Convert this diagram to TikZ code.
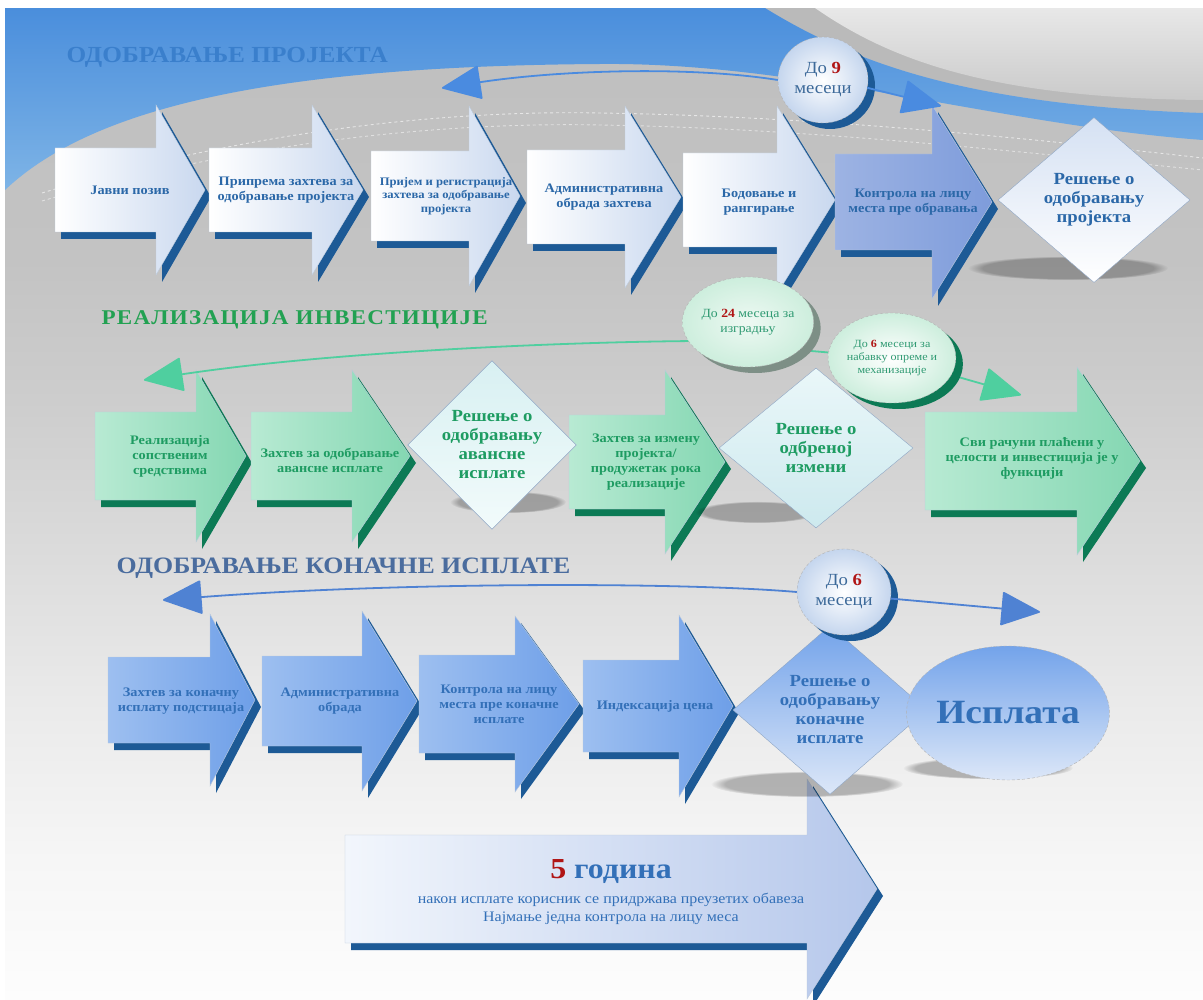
\documentclass[tikz,border=0pt]{standalone}
\usepackage{fontspec}
\setmainfont{Liberation Serif}[FakeStretch=1.1]
\usetikzlibrary{shapes.geometric,arrows.meta,shadows,fadings}

\definecolor{skyA}{HTML}{4A8EDC}
\definecolor{skyB}{HTML}{7EB4E6}
\definecolor{bandgray}{HTML}{BABABA}
\definecolor{lightA}{HTML}{E8E8E8}
\definecolor{lightB}{HTML}{CACACA}
\definecolor{bg8}{HTML}{BFBFBF}
\definecolor{bg9}{HTML}{C3C3C3}
\definecolor{bgA}{HTML}{CDCDCD}
\definecolor{bgB}{HTML}{DCDCDC}
\definecolor{bgC}{HTML}{EAEAEA}
\definecolor{bgD}{HTML}{F6F6F6}
\definecolor{bgE}{HTML}{FDFDFD}
\definecolor{navyshadow}{HTML}{1D5A96}
\definecolor{greenshadow}{HTML}{0C7A55}
\definecolor{grayshadow}{HTML}{7D8F86}
\definecolor{titleblue}{HTML}{3A7FCC}
\definecolor{titlegreen}{HTML}{22A152}
\definecolor{titleslate}{HTML}{4A6C9E}
\definecolor{txtblue}{HTML}{2B68A8}
\definecolor{txtgreen}{HTML}{1E9C62}
\definecolor{txtblue3}{HTML}{3370B8}
\definecolor{txtcirc}{HTML}{3D6A9A}
\definecolor{txtmint}{HTML}{2F9A72}
\definecolor{numred}{HTML}{B01515}
\definecolor{linkblue}{HTML}{4A8BE0}
\definecolor{linkgreen}{HTML}{4FCF9F}
\definecolor{linkblue3}{HTML}{4F82D3}
\definecolor{paleA}{HTML}{C9D8EF}
\definecolor{darkL}{HTML}{9DB3E3}
\definecolor{darkM}{HTML}{D6E0F3}
\definecolor{darkR}{HTML}{7E9CDB}
\definecolor{mintL}{HTML}{B8EAD3}
\definecolor{mintM}{HTML}{E4F7EF}
\definecolor{mintR}{HTML}{84D7B2}
\definecolor{azL}{HTML}{9DBFF0}
\definecolor{azM}{HTML}{DCE8FA}
\definecolor{azR}{HTML}{6E9FE8}
\definecolor{bigL}{HTML}{F2F6FC}
\definecolor{bigR}{HTML}{B5C7EB}
\definecolor{frame}{HTML}{8FA6C4}
\definecolor{diaTop}{HTML}{D5E1F3}
\definecolor{cyanTop}{HTML}{D8F0F2}
\definecolor{cyanBot}{HTML}{F2FBFB}
\definecolor{cyanB}{HTML}{CDE9EE}
\definecolor{cyanT}{HTML}{EAF7F9}
\definecolor{ballEdge}{HTML}{C5D6EE}
\definecolor{mintIn}{HTML}{EEF9F3}
\definecolor{mintOut}{HTML}{CDEEDD}
\definecolor{payTop}{HTML}{73A3EA}
\definecolor{payBot}{HTML}{DCE7F8}

\pgfdeclareverticalshading{backfade}{100bp}{color(0bp)=(bgE); color(25bp)=(bgE);
  color(32bp)=(bgD); color(40bp)=(bgC); color(47bp)=(bgB); color(55bp)=(bgA);
  color(62bp)=(bg9); color(75bp)=(bg8); color(100bp)=(bg8)}

\newcommand{\procarrow}[7]{%
  \path[#1] (#2,#5-#6) -- (#3,#5-#6) -- (#3,#5-#7) -- (#4,#5) -- (#3,#5+#7)
    -- (#3,#5+#6) -- (#2,#5+#6) -- cycle;}

\begin{document}
\begin{tikzpicture}[x=1pt,y=-1pt,
  navy3d/.style={drop shadow={shadow xshift=6pt,shadow yshift=-7pt,fill=navyshadow,opacity=1}},
  green3d/.style={drop shadow={shadow xshift=6pt,shadow yshift=-7pt,fill=greenshadow,opacity=1}},
  stepA/.style={navy3d,left color=white,right color=paleA,draw=frame!60,line width=.4pt},
  stepAdark/.style={navy3d,left color=darkL,middle color=darkM,right color=darkR,draw=frame!60,line width=.4pt},
  stepG/.style={green3d,left color=mintL,middle color=mintM,right color=mintR,draw=frame!60,line width=.4pt},
  stepB/.style={navy3d,left color=azL,middle color=azM,right color=azR,draw=frame!60,line width=.4pt},
  stepbig/.style={navy3d,left color=bigL,right color=bigR,draw=frame!60,line width=.4pt},
  lab1/.style={font=\bfseries\fontsize{13}{15}\selectfont,text=txtblue,align=center},
  lab2/.style={font=\bfseries\fontsize{13}{15}\selectfont,text=txtgreen,align=center},
  lab3/.style={font=\bfseries\fontsize{13}{15}\selectfont,text=txtblue3,align=center},
  title/.style={anchor=west,font=\bfseries\fontsize{23}{25}\selectfont},
  dia/.style={diamond,inner sep=0pt,draw=frame,line width=.4pt,align=center,
    font=\bfseries\fontsize{17}{19}\selectfont},
  oval/.style={ellipse,inner sep=0pt,draw=gray!60,densely dashed,line width=.4pt,align=center},
  floor/.style={black,opacity=.26,path fading=circle with fuzzy edge 15 percent},
  linkA/.style={linkblue,line width=1.8pt},
  linkG/.style={linkgreen,line width=1.8pt},
  linkC/.style={linkblue3,line width=1.8pt},
  tipA/.style={-{Triangle[round,length=40pt,width=34pt]}}
]
\useasboundingbox (0,0) rectangle (1203,1000);
\shade[shading=backfade] (0,0) rectangle (1203,1000);
\fill[bandgray] (765,8) .. controls (850,60) and (960,105) .. (1203,113) -- (1203,8) -- cycle;
\shade[top color=lightA,bottom color=lightB] (815,8) .. controls (890,60) and (990,98) .. (1203,100) -- (1203,8) -- cycle;
\shade[top color=skyA,bottom color=skyB] (5,8) -- (765,8) .. controls (850,60) and (960,105) .. (1203,113)
  -- (1203,140) .. controls (1000,125) and (800,62) .. (600,64) .. controls (300,66) and (100,100) .. (5,190) -- cycle;
\fill[white] (0,0) rectangle (1203,8);
\fill[white] (0,0) rectangle (5,1000);
\draw[white,opacity=.6,dashed,line width=.9pt] (42,193) .. controls (250,130) and (450,110) .. (600,113)
  .. controls (800,116) and (1000,135) .. (1203,158);
\draw[white,opacity=.5,dashed,line width=.9pt] (42,201) .. controls (250,140) and (450,122) .. (600,125)
  .. controls (800,128) and (1000,150) .. (1203,170);

\node[title,text=titleblue] (head1) at (63,57) {ОДОБРАВАЊЕ ПРОЈЕКТА};
\node[title,text=titlegreen,font=\bfseries\fontsize{21}{23}\selectfont\addfontfeatures{LetterSpace=6}] (head2) at (98,320) {РЕАЛИЗАЦИЈА ИНВЕСТИЦИЈЕ};
\node[title,text=titleslate,font=\bfseries\fontsize{23.5}{25}\selectfont] (head3) at (113,568) {ОДОБРАВАЊЕ КОНАЧНЕ ИСПЛАТЕ};

\procarrow{stepA}{55}{156}{205}{190}{42}{85}
\procarrow{stepA}{209}{312}{363}{190}{42}{85}
\procarrow{stepA}{371}{469}{520}{196}{45}{90}
\procarrow{stepA}{527}{625}{681}{197}{47}{91}
\procarrow{stepA}{683}{777}{835}{200}{47}{94}
\procarrow{stepAdark}{835}{932}{992}{202}{48}{97}
\node[lab1] (poziv) at (130,190) {Јавни позив};
\node[lab1] (priprema) at (286,190) {Припрема захтева за\\одобравање пројекта};
\node[lab1,font=\bfseries\fontsize{11.5}{13.5}\selectfont] (prijem) at (446,196) {Пријем и регистрација\\захтева за одобравање\\пројекта};
\node[lab1] (obrada) at (604,197) {Административна\\обрада захтева};
\node[lab1] (bodovanje) at (759,202) {Бодовање и\\рангирање};
\node[lab1] (kontrola) at (913,202) {Контрола на лицу\\места пре обравања};
\fill[floor] (1068,268) ellipse [x radius=100pt,y radius=12pt];
\node[dia,top color=diaTop,bottom color=white,text=txtblue,minimum width=192pt,minimum height=165pt] (res1) at (1094,200) {Решење о\\одобравању\\пројекта};

\coordinate (t1l) at (442,88);
\coordinate (t1r) at (941,106);
\node[oval,inner color=white,outer color=ballEdge,minimum width=90pt,minimum height=86pt,
  drop shadow={shadow xshift=7pt,shadow yshift=-6pt,fill=navyshadow,opacity=1},
  text=txtcirc,font=\fontsize{17}{20}\selectfont] (rok9) at (823,80) {До \textcolor{numred}{\textbf{9}}\\месеци};
\draw[linkA,tipA] (rok9.180) .. controls (690,66) and (560,70) .. (t1l);
\draw[linkA,tipA] (rok9.-10) -- (t1r);

\procarrow{stepG}{95}{196}{246}{456}{44}{86}
\procarrow{stepG}{251}{352}{410}{456}{44}{86}
\procarrow{stepG}{569}{665}{725}{462}{47}{92}
\procarrow{stepG}{925}{1077}{1140}{461}{49}{94}
\node[lab2] (sopstveno) at (170,456) {Реализација\\сопственим\\средствима};
\node[lab2] (avans) at (330,460) {Захтев за одобравање\\авансне исплате};
\node[lab2] (izmena) at (646,462) {Захтев за измену\\пројекта/\\продужетак рока\\реализације};
\node[lab2] (racuni) at (1032,458) {Сви рачуни плаћени у\\целости и инвестиција је у\\функцији};
\fill[floor] (508,502) ellipse [x radius=58pt,y radius=11pt];
\fill[floor] (757,512) ellipse [x radius=62pt,y radius=11pt];
\node[dia,top color=cyanTop,bottom color=cyanBot,text=txtgreen,minimum width=158pt,minimum height=150pt] (res2) at (492,445) {Решење о\\одобравању\\авансне\\исплате};
\node[dia,top color=cyanT,bottom color=cyanB,text=txtgreen,minimum width=194pt,minimum height=160pt] (res3) at (816,448) {Решење о\\одбреној\\измени};

\coordinate (t2l) at (144,380);
\coordinate (t2r) at (1021,395);
\draw[linkG,tipA] (748,322) ++(-52,19) coordinate (c24in) .. controls (560,342) and (330,352) .. (t2l);
\draw[linkG] (c24in) -- (892,358);
\draw[linkG,tipA] (892,358) -- (t2r);
\node[oval,inner color=mintIn,outer color=mintOut,minimum width=114pt,minimum height=90pt,
  drop shadow={shadow xshift=7pt,shadow yshift=-6pt,fill=grayshadow,opacity=1},
  text=txtmint,font=\fontsize{12.5}{15}\selectfont] (rok24) at (748,322) {До \textcolor{numred}{\textbf{24}} месеца за\\изградњу};
\node[oval,inner color=white,outer color=mintOut,minimum width=110pt,minimum height=90pt,
  drop shadow={shadow xshift=7pt,shadow yshift=-6pt,fill=greenshadow,opacity=1},
  text=txtmint,font=\fontsize{11}{13}\selectfont] (rok6a) at (892,358) {До \textcolor{numred}{\textbf{6}} месеци за\\набавку опреме и\\механизације};

\procarrow{stepbig}{345}{807}{877}{889}{54}{110}
\node[font=\bfseries\fontsize{29}{31}\selectfont,text=txtblue3] (godine) at (611,872) {\textcolor{numred}{5} година};
\node[font=\fontsize{14.5}{16}\selectfont,text=txtblue3] (obaveze) at (611,900) {након исплате корисник се придржава преузетих обавеза};
\node[font=\fontsize{14.5}{16}\selectfont,text=txtblue3] (kontrolamesto) at (611,918) {Најмање једна контрола на лицу меса};

\procarrow{stepB}{108}{210}{255}{700}{43}{86}
\procarrow{stepB}{262}{362}{417}{701}{45}{90}
\procarrow{stepB}{419}{515}{579}{704}{49}{88}
\procarrow{stepB}{583}{679}{733}{706}{46}{91}
\node[lab3] (konacna) at (181,701) {Захтев за коначну\\исплату подстицаја};
\node[lab3] (obrada2) at (340,701) {Административна\\обрада};
\node[lab3] (kontrola2) at (499,704) {Контрола на лицу\\места пре коначне\\исплате};
\node[lab3] (indeks) at (655,706) {Индексација цена};
\fill[floor] (807,784) ellipse [x radius=96pt,y radius=13pt];
\fill[floor] (988,768) ellipse [x radius=85pt,y radius=11pt];
\node[dia,top color=payTop,bottom color=payBot,text=txtblue3,minimum width=194pt,minimum height=160pt] (res4) at (830,710) {Решење о\\одобравању\\коначне\\исплате};
\node[oval,top color=payTop,bottom color=payBot,minimum width=158pt,minimum height=134pt,
  text=txtblue3,font=\bfseries\fontsize{34}{36}\selectfont] (isplata) at (1008,713) {Исплата};

\coordinate (t3l) at (163,600);
\coordinate (t3r) at (1040,612);
\node[oval,inner color=white,outer color=ballEdge,minimum width=94pt,minimum height=86pt,
  drop shadow={shadow xshift=7pt,shadow yshift=-6pt,fill=navyshadow,opacity=1},
  text=txtcirc,font=\fontsize{17}{20}\selectfont] (rok6b) at (844,592) {До \textcolor{numred}{\textbf{6}}\\месеци};
\draw[linkC,tipA] (rok6b.180) .. controls (680,582) and (400,582) .. (t3l);
\draw[linkC,tipA] (rok6b.-8) -- (t3r);
\end{tikzpicture}
\end{document}
